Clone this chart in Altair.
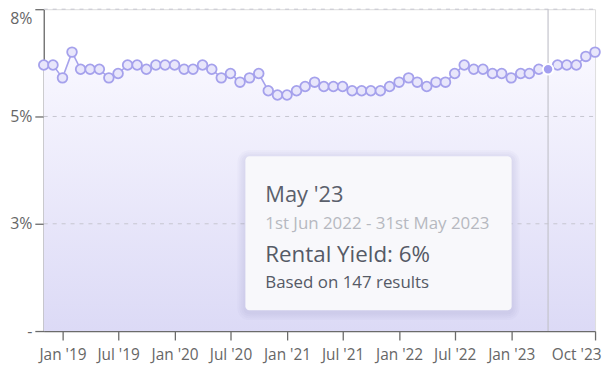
import altair as alt
import pandas as pd

# ---- data ----
months = pd.date_range("2018-11-01", "2023-10-01", freq="MS").strftime("%Y-%m-%d").tolist()
yields = [
    6.2, 6.2,
    5.9, 6.5, 6.1, 6.1, 6.1, 5.9, 6.0, 6.2, 6.2, 6.1, 6.2, 6.2,
    6.2, 6.1, 6.1, 6.2, 6.1, 5.9, 6.0, 5.8, 5.9, 6.0, 5.6, 5.5,
    5.5, 5.6, 5.7, 5.8, 5.7, 5.7, 5.7, 5.6, 5.6, 5.6, 5.6, 5.7,
    5.8, 5.9, 5.8, 5.7, 5.8, 5.8, 6.0, 6.2, 6.1, 6.1, 6.0, 6.0,
    5.9, 6.0, 6.0, 6.1, 6.1, 6.2, 6.2, 6.2, 6.4, 6.5,
]
y_ticks = [0, 2.5, 5, 7.5]
x_tick_dates = [(2019, 1), (2019, 7), (2020, 1), (2020, 7), (2021, 1), (2021, 7),
                (2022, 1), (2022, 7), (2023, 1), (2023, 10)]
highlight_month = "2023-05-01"
tooltip_title = "May '23"
tooltip_range = "1st Jun 2022 - 31st May 2023"
tooltip_value = "Rental Yield: 6%"
tooltip_note = "Based on 147 results"

df = pd.DataFrame({"date": months, "yield": yields})
hl = df[df["date"] == highlight_month]
grid_df = pd.DataFrame({"tick": y_ticks[1:]})

FONT = "Open Sans"
W, H = 555, 324

xscale = alt.Scale(type="utc", domain=[alt.DateTime(year=2018, month=11, date=1, utc=True),
                                       alt.DateTime(year=2023, month=10, date=1, utc=True)], nice=False)
yscale = alt.Scale(domain=[0, 7.5], nice=False, zero=True)

xaxis = alt.Axis(
    values=[alt.DateTime(year=y, month=m, date=1, utc=True) for y, m in x_tick_dates],
    format="%b '%y", labelFlush=True, labelFlushOffset=6, grid=False, title=None,
    domainColor="#6b6b6b", tickColor="#6b6b6b", tickSize=9, domainWidth=1.3, tickWidth=1.3,
    labelFont=FONT, labelFontSize=15.5, labelColor="#666666", labelPadding=8,
)
yaxis = alt.Axis(
    values=y_ticks,
    labelExpr="datum.value == 0 ? '-' : round(datum.value) + '%'",
    grid=False, title=None,
    domainColor="#6b6b6b", tickColor="#6b6b6b", tickSize=9, domainWidth=1.3, tickWidth=1.3,
    labelFont=FONT, labelFontSize=16, labelColor="#666666", labelPadding=3,
    labelBaseline={"condition": {"test": "datum.value == 7.5", "value": "top"}, "value": "middle"},
    labelOffset={"condition": {"test": "datum.value == 7.5", "value": 1}, "value": 0},
)

base = alt.Chart(df).encode(
    x=alt.X("date:T", scale=xscale, axis=xaxis),
    y=alt.Y("yield:Q", scale=yscale, axis=yaxis),
)

area = base.mark_area(
    color=alt.Gradient(gradient="linear",
                       stops=[alt.GradientStop(color="#f9f8ff", offset=0),
                              alt.GradientStop(color="#dcdaf6", offset=1)],
                       x1=1, x2=1, y1=0, y2=1),
    opacity=1,
)
grid = alt.Chart(grid_df).mark_rule(color="#c6c6d0", strokeDash=[4, 5], strokeWidth=1).encode(
    y=alt.Y("tick:Q", scale=yscale), x=alt.value(0), x2=alt.value(W))
line = base.mark_line(color="#a7a3ec", strokeWidth=1.6)
pts = base.mark_circle(size=95, color="#e8e6fb", stroke="#a5a1ec", strokeWidth=1.8, opacity=1)

rule = alt.Chart(hl).mark_rule(color="#c4c4cc", strokeWidth=1.2).encode(
    x=alt.X("date:T", scale=xscale), y=alt.value(0), y2=alt.value(H))
hl_pt = alt.Chart(hl).mark_circle(size=110, color="#a29ef0", stroke="white", strokeWidth=2, opacity=1).encode(
    x=alt.X("date:T", scale=xscale), y=alt.Y("yield:Q", scale=yscale))

bx0, bx1, by0, by1 = 203, 471, 148, 303
shadows = [
    alt.Chart(hl).mark_rect(color="#6e6aa8", opacity=0.03, cornerRadius=4 + s).encode(
        x=alt.value(bx0 - s), x2=alt.value(bx1 + s), y=alt.value(by0 - s + 2), y2=alt.value(by1 + s + 2))
    for s in (2, 4, 6, 8)
]
box = alt.Chart(hl).mark_rect(color="#f8f8fb", cornerRadius=4, opacity=1).encode(
    x=alt.value(bx0), x2=alt.value(bx1), y=alt.value(by0), y2=alt.value(by1))

tx = 223
def txt(s, y, size, color):
    return alt.Chart(hl).mark_text(text=s, align="left", baseline="alphabetic", font=FONT,
                                   fontSize=size, color=color).encode(x=alt.value(tx), y=alt.value(y))

texts = [
    txt(tooltip_title, 194, 22, "#5b606c"),
    txt(tooltip_range, 221, 17, "#b6b8c0"),
    txt(tooltip_value, 254, 22.5, "#555a66"),
    txt(tooltip_note, 281, 17, "#555a66"),
]

chart = alt.layer(area, grid, line, pts, rule, hl_pt, *shadows, box, *texts).properties(
    width=W, height=H,
    autosize=alt.AutoSizeParams(type="none"),
    padding={"left": 36, "top": 0, "right": 8, "bottom": 36},
).configure_view(stroke=None).configure(background="white")

chart.save("out.html", embed_options={"renderer": "svg", "actions": False})
